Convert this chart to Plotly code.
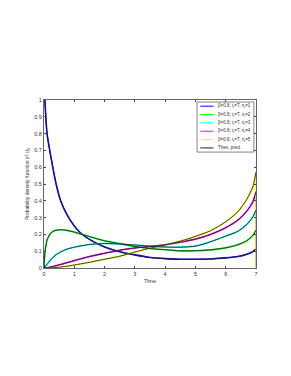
import plotly.graph_objects as go

# ---- data ----
t = [0.0, 0.03, 0.1, 0.2, 0.3, 0.4, 0.55, 0.75, 1.0, 1.2, 1.5, 2.0, 2.5,
     3.0, 3.5, 4.0, 4.5, 5.0, 5.5, 6.0, 6.4, 6.7, 6.9, 7.0]

pdf_n1 = [1.15, 1.0, 0.80, 0.69, 0.59, 0.50, 0.40, 0.32, 0.25, 0.21, 0.17, 0.125, 0.097,
          0.078, 0.063, 0.056, 0.052, 0.052, 0.054, 0.060, 0.068, 0.082, 0.097, 0.114]
pdf_n2 = [0.0, 0.09, 0.165, 0.203, 0.218, 0.225, 0.228, 0.224, 0.214, 0.203, 0.187, 0.162, 0.145,
          0.128, 0.116, 0.109, 0.102, 0.103, 0.108, 0.120, 0.138, 0.163, 0.195, 0.226]
pdf_n3 = [0.0, 0.006, 0.022, 0.044, 0.063, 0.079, 0.096, 0.112, 0.124, 0.131, 0.140, 0.146, 0.143,
          0.137, 0.130, 0.125, 0.124, 0.130, 0.156, 0.190, 0.218, 0.260, 0.305, 0.345]
pdf_n4 = [0.0, 0.0, 0.001, 0.005, 0.009, 0.014, 0.021, 0.031, 0.044, 0.054, 0.068, 0.088, 0.106,
          0.119, 0.128, 0.138, 0.154, 0.172, 0.200, 0.240, 0.285, 0.340, 0.395, 0.455]
pdf_n5 = [0.0, 0.0, 0.0, 0.001, 0.002, 0.003, 0.006, 0.010, 0.018, 0.024, 0.034, 0.052, 0.070,
          0.095, 0.118, 0.137, 0.160, 0.188, 0.222, 0.275, 0.335, 0.410, 0.485, 0.570]

series = [pdf_n1, pdf_n2, pdf_n3, pdf_n4, pdf_n5]
names = ["β=0.8, t<sub>r</sub>=T, n<sub>r</sub>=1",
         "β=0.8, t<sub>r</sub>=T, n<sub>r</sub>=2",
         "β=0.8, t<sub>r</sub>=T, n<sub>r</sub>=3",
         "β=0.8, t<sub>r</sub>=T, n<sub>r</sub>=4",
         "β=0.8, t<sub>r</sub>=T, n<sub>r</sub>=5"]
colors = ["#0000ff", "#00ff00", "#00ffff", "#ff00ff", "#ffff00"]
theo_name = "Theo. pred."
theo_color = "#222222"

x_ticks = [0, 1, 2, 3, 4, 5, 6, 7]
y_ticks = [0, 0.1, 0.2, 0.3, 0.4, 0.5, 0.6, 0.7, 0.8, 0.9, 1]
y_ticktext = ["0", "0.1", "0.2", "0.3", "0.4", "0.5", "0.6", "0.7", "0.8", "0.9", "1"]

fig = go.Figure()

# simulated curves (coloured) with their drop to zero at the end of the horizon
for y, nm, c in zip(series, names, colors):
    fig.add_trace(go.Scatter(x=t, y=y, mode="lines", name=nm, showlegend=False,
                             line=dict(color=c, width=1.6, shape="spline", smoothing=0.6)))
for y, c in zip(series, colors):
    fig.add_trace(go.Scatter(x=[t[-1], t[-1]], y=[0, y[-1]], mode="lines", showlegend=False,
                             line=dict(color=c, width=1.5), hoverinfo="skip"))

# theoretical predictions (black)
for y in series:
    fig.add_trace(go.Scatter(x=t, y=y, mode="lines", name=theo_name, showlegend=False,
                             line=dict(color=theo_color, width=0.9, shape="spline", smoothing=0.6)))

# ---- hand-made compact legend (paper coordinates = plot area) ----
leg_x0, leg_x1, leg_y0, leg_y1 = 0.722, 0.99, 0.69, 0.988
shapes = [dict(type="rect", xref="paper", yref="paper", x0=leg_x0, x1=leg_x1, y0=leg_y0, y1=leg_y1,
               line=dict(color="#666", width=0.8), fillcolor="white", layer="above")]
annotations = []
labels = names + [theo_name]
lcolors = colors + [theo_color]
n_rows = len(labels)
row_h = (leg_y1 - leg_y0) / n_rows
for i, (lab, c) in enumerate(zip(labels, lcolors)):
    yc = leg_y1 - row_h * (i + 0.5)
    shapes.append(dict(type="line", xref="paper", yref="paper", x0=0.737, x1=0.80, y0=yc, y1=yc,
                       line=dict(color=c, width=1), layer="above"))
    annotations.append(dict(xref="paper", yref="paper", x=0.81, y=yc, text=lab, showarrow=False,
                            xanchor="left", yanchor="middle", font=dict(size=4.5, color="#333")))

fig.update_layout(
    width=291, height=376,
    margin=dict(l=36, r=43, t=92, b=116),
    paper_bgcolor="white", plot_bgcolor="white",
    font=dict(family="Liberation Sans, Arial", size=5.5, color="#333"),
    showlegend=False,
    shapes=shapes, annotations=annotations,
)
fig.update_xaxes(range=[0, 7], tickvals=x_ticks, ticks="inside", ticklen=2,
                 showline=True, mirror="ticks", linecolor="#666", linewidth=1,
                 showgrid=False, zeroline=False, tickfont=dict(size=5.5),
                 title=dict(text="Time", font=dict(size=5.5), standoff=3))
fig.update_yaxes(range=[0, 1], tickvals=y_ticks, ticktext=y_ticktext, ticks="inside", ticklen=2,
                 showline=True, mirror="ticks", linecolor="#666", linewidth=1,
                 showgrid=False, zeroline=False, tickfont=dict(size=5.5),
                 title=dict(text="Probability density function of U<sub>1</sub>",
                            font=dict(size=5), standoff=4))

fig.write_html("out.html")
